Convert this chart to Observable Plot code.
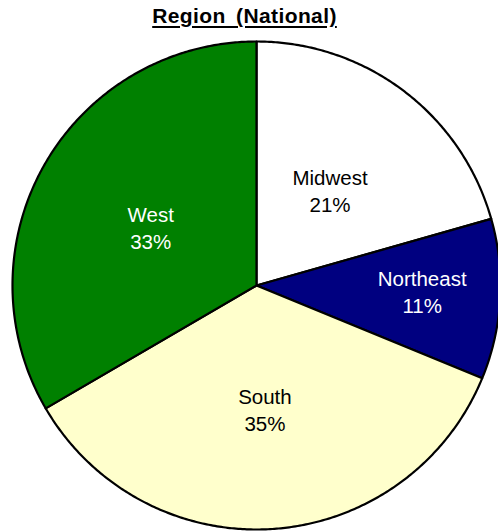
<!DOCTYPE html>
<html>
<head>
<meta charset="utf-8">
<script src="https://cdn.jsdelivr.net/npm/d3@7"></script>
<script src="https://cdn.jsdelivr.net/npm/@observablehq/plot@0.6"></script>
<style>
  html, body { margin: 0; padding: 0; background: #fff; }
  #wrap { position: relative; width: 498px; height: 531px; overflow: hidden; }
  #title {
    position: absolute; left: 0; top: 5px; width: 489px; text-align: center;
    font-family: Arial, "Liberation Sans", sans-serif; font-weight: bold;
    font-size: 21px; line-height: 21px; letter-spacing: 0.4px; word-spacing: 4px;
    text-decoration: underline; text-decoration-thickness: 2px; text-underline-offset: 3px;
    color: #000;
  }
  #chart { position: absolute; left: 0; top: 0; }
</style>
</head>
<body>
<div id="wrap">
  <div id="chart"></div>
  <div id="title">Region (National)</div>
</div>
<script>
const categories = ["Midwest", "Northeast", "South", "West"];
const values = [20.6, 10.6, 35.4, 33.4];
const colors = ["#ffffff", "#000080", "#ffffcc", "#008000"];
const labelColors = ["#000000", "#ffffff", "#000000", "#ffffff"];

// layout (pixels)
const W = 498, H = 531, CX = 256, CY = 285, R = 244;

const total = d3.sum(values);
let cum = 0;
const slices = categories.map((c, i) => {
  const a0 = cum / total * 2 * Math.PI;
  cum += values[i];
  const a1 = cum / total * 2 * Math.PI;
  return {category: c, value: values[i], a0, a1, fill: colors[i], textColor: labelColors[i]};
});

// polygon points for each slice (unit circle, angle clockwise from top)
const pts = [];
for (const s of slices) {
  pts.push({category: s.category, x: 0, y: 0});
  const n = Math.max(2, Math.ceil((s.a1 - s.a0) / (Math.PI / 360)));
  for (let k = 0; k <= n; k++) {
    const a = s.a0 + (s.a1 - s.a0) * k / n;
    pts.push({category: s.category, x: Math.sin(a), y: Math.cos(a)});
  }
  pts.push({category: s.category, x: 0, y: 0});
}

const labels = slices.map(s => {
  const m = (s.a0 + s.a1) / 2;
  const share = s.value / total;
  const small = share < 0.15;
  const rr = small ? 0.68 : 0.5;
  return {
    x: rr * Math.sin(m),
    y: rr * Math.cos(m) + (small ? 6 / R : 0),
    text: `${s.category}\n${Math.round(share * 100)}%`,
    color: s.textColor
  };
});

const chart = Plot.plot({
  width: W, height: H,
  margin: 0,
  x: {domain: [-CX / R, (W - CX) / R], axis: null},
  y: {domain: [-(H - CY) / R, CY / R], axis: null},
  color: {domain: categories, range: colors},
  style: {fontFamily: "Arial, 'Liberation Sans', sans-serif", background: "#fff"},
  marks: [
    Plot.line(pts, {x: "x", y: "y", z: "category", fill: "category", stroke: "#000", strokeWidth: 2.2, strokeLinejoin: "round", curve: "linear"}),
    Plot.text(labels, {x: "x", y: "y", dy: 2, text: "text", fill: "color", fontSize: 20.5, lineHeight: 1.3})
  ]
});
document.getElementById("chart").appendChild(chart);
</script>
</body>
</html>
